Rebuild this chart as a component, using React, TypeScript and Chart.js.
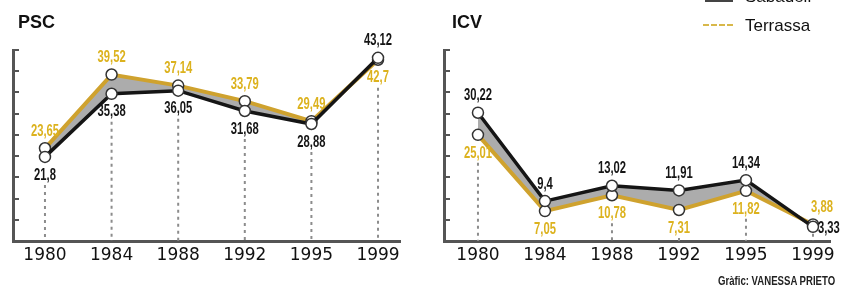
import React, { useEffect, useRef } from "react";
import { Chart, registerables } from "chart.js";

Chart.register(...registerables);

// ---- data ----
const years = ["1980", "1984", "1988", "1992", "1995", "1999"];
const seriesNames = ["Sabadell", "Terrassa"];
const pscSabadell = [21.8, 35.38, 36.05, 31.68, 28.88, 43.12];
const pscTerrassa = [23.65, 39.52, 37.14, 33.79, 29.49, 42.7];
const icvSabadell = [30.22, 9.4, 13.02, 11.91, 14.34, 3.33];
const icvTerrassa = [25.01, 7.05, 10.78, 7.31, 11.82, 3.88];

// ---- label placement (style) ----
const pscPlacement = [
  ["below", "below", "below", "below", "below", "above"],
  ["above", "above", "above", "above", "above", "below"],
];
const icvPlacement = [
  ["above", "above", "above", "above", "above", "right"],
  ["below", "below", "below", "below", "below", "aboveRight"],
];

const SAB_LINE = "#151515";
const TER_LINE = "#cfa22e";
const SAB_TEXT = "#151515";
const TER_TEXT = "#dcb21e";
const AXIS = "#555555";

const fmt = (v: number) => String(v).replace(".", ",");

type PanelProps = {
  sab: number[];
  ter: number[];
  placement: string[][];
  yMin: number;
  yMax: number;
  xMin: number;
  xMax: number;
  padLeft: number;
  padRight: number;
  width: number;
  left: number;
};

function makePlugin(placement: string[][]) {
  const labelPos = (d: number, i: number, px: number, py: number) => {
    const p = placement[d][i];
    if (p === "above") return { x: px, y: py - 17, align: "center" };
    if (p === "below") return { x: px, y: py + 18, align: "center" };
    if (p === "right") return { x: px + 5, y: py + 1, align: "left" };
    return { x: px + 9, y: py - 17, align: "center" }; // aboveRight
  };
  return {
    id: "panelDecor",
    beforeDatasetsDraw(chart: any) {
      const ctx = chart.ctx;
      const xs = chart.scales.x;
      const area = chart.chartArea;
      ctx.save();
      ctx.strokeStyle = "#8c8c8c";
      ctx.lineWidth = 2;
      ctx.setLineDash([3, 4]);
      const m0 = chart.getDatasetMeta(0).data;
      const m1 = chart.getDatasetMeta(1).data;
      for (let i = 0; i < years.length; i++) {
        const x = xs.getPixelForValue(i);
        const lowerIdx = m0[i].y >= m1[i].y ? 0 : 1;
        const py = lowerIdx === 0 ? m0[i].y : m1[i].y;
        let start = py + 7;
        if (placement[lowerIdx][i] === "below") start = py + 18 + 10;
        if (start >= area.bottom - 2) continue;
        ctx.beginPath();
        ctx.moveTo(x, start);
        ctx.lineTo(x, area.bottom);
        ctx.stroke();
      }
      ctx.restore();
    },
    afterDatasetsDraw(chart: any) {
      const ctx = chart.ctx;
      const ys = chart.scales.y;
      const area = chart.chartArea;
      ctx.save();
      // inward tick marks on the y axis
      ctx.strokeStyle = AXIS;
      ctx.lineWidth = 2;
      ys.ticks.forEach((t: any) => {
        const y = Math.round(ys.getPixelForValue(t.value));
        ctx.beginPath();
        ctx.moveTo(area.left, y);
        ctx.lineTo(area.left + 6, y);
        ctx.stroke();
      });
      // value labels
      ctx.font = "bold 17px 'Liberation Sans', Arial, sans-serif";
      ctx.textBaseline = "middle";
      for (let d = 0; d < 2; d++) {
        const meta = chart.getDatasetMeta(d);
        const vals = chart.data.datasets[d].data;
        meta.data.forEach((pt: any, i: number) => {
          const pos = labelPos(d, i, pt.x, pt.y);
          ctx.fillStyle = d === 0 ? SAB_TEXT : TER_TEXT;
          ctx.textAlign = pos.align;
          ctx.save();
          ctx.translate(pos.x, pos.y);
          ctx.scale(0.66, 1);
          ctx.fillText(fmt(vals[i].y), 0, 0);
          ctx.restore();
        });
      }
      ctx.restore();
    },
  };
}

function Panel(props: PanelProps) {
  const ref = useRef<HTMLCanvasElement | null>(null);
  useEffect(() => {
    if (!ref.current) return;
    const pointStyle = {
      pointRadius: 5.5,
      pointBackgroundColor: "#ffffff",
      pointBorderColor: "#333333",
      pointBorderWidth: 1.5,
      tension: 0,
    };
    const chart = new Chart(ref.current, {
      type: "line",
      data: {
        datasets: [
          {
            label: seriesNames[0],
            data: props.sab.map((v, i) => ({ x: i, y: v })),
            borderColor: SAB_LINE,
            borderWidth: 3.5,
            fill: "+1",
            backgroundColor: "#acacac",
            ...pointStyle,
          },
          {
            label: seriesNames[1],
            data: props.ter.map((v, i) => ({ x: i, y: v })),
            borderColor: TER_LINE,
            borderWidth: 4,
            fill: false,
            ...pointStyle,
          },
        ],
      },
      options: {
        animation: false,
        responsive: false,
        layout: {
          padding: { left: props.padLeft, right: props.padRight, top: 50, bottom: 16.6 },
        },
        plugins: {
          legend: { display: false },
          tooltip: { enabled: false },
          filler: { drawTime: "beforeDatasetsDraw" },
        },
        scales: {
          x: {
            type: "linear",
            min: props.xMin,
            max: props.xMax,
            afterBuildTicks: (s: any) => {
              s.ticks = years.map((_, i) => ({ value: i }));
            },
            ticks: {
              callback: (v: any) => years[v],
              font: { family: "'DejaVu Sans', sans-serif", size: 17 },
              color: "#111111",
              padding: 4,
              maxRotation: 0,
              autoSkip: false,
            },
            grid: { display: false, drawTicks: false },
            border: { display: true, color: AXIS, width: 3 },
          },
          y: {
            type: "linear",
            min: props.yMin,
            max: props.yMax,
            ticks: { display: false, count: 10 },
            grid: { display: false, drawTicks: false },
            border: { display: true, color: AXIS, width: 3 },
          },
        },
      } as any,
      plugins: [makePlugin(props.placement)],
    });
    return () => chart.destroy();
  }, []);
  return (
    <canvas
      ref={ref}
      width={props.width}
      height={286}
      style={{ position: "absolute", left: props.left, top: 0, width: props.width, height: 286 }}
    />
  );
}

const titleStyle: React.CSSProperties = {
  position: "absolute",
  top: 13,
  font: "bold 18px 'Liberation Sans', Arial, sans-serif",
  lineHeight: "18px",
  color: "#111",
  whiteSpace: "nowrap",
};

const legendText: React.CSSProperties = {
  position: "absolute",
  left: 745,
  font: "17px 'Liberation Sans', Arial, sans-serif",
  lineHeight: "17px",
  color: "#111",
  whiteSpace: "nowrap",
};

export default function App() {
  return (
    <div
      style={{
        position: "fixed",
        left: 0,
        top: 0,
        width: 856,
        height: 286,
        background: "#ffffff",
        overflow: "hidden",
      }}
    >
      <Panel
        sab={pscSabadell}
        ter={pscTerrassa}
        placement={pscPlacement}
        yMin={3.7}
        yMax={44.8}
        xMin={-0.48}
        xMax={5.33}
        padLeft={13}
        padRight={30}
        width={430}
        left={0}
      />
      <Panel
        sab={icvSabadell}
        ter={icvTerrassa}
        placement={icvPlacement}
        yMin={0}
        yMax={45}
        xMin={-0.507}
        xMax={5.254}
        padLeft={14}
        padRight={26}
        width={426}
        left={430}
      />
      <div style={{ ...titleStyle, left: 18 }}>PSC</div>
      <div style={{ ...titleStyle, left: 452 }}>ICV</div>
      <div style={{ position: "absolute", left: 705, top: -1, width: 28, height: 3, background: "#444" }} />
      <div style={{ ...legendText, top: -12 }}>{seriesNames[0]}</div>
      <div
        style={{
          position: "absolute",
          left: 703,
          top: 24,
          width: 30,
          height: 0,
          borderTop: "2px dashed #d8b84a",
        }}
      />
      <div style={{ ...legendText, top: 17 }}>{seriesNames[1]}</div>
      <div
        style={{
          position: "absolute",
          left: 718,
          top: 275,
          font: "bold 12px 'Liberation Sans', Arial, sans-serif",
          lineHeight: "12px",
          color: "#222",
          whiteSpace: "nowrap",
          transform: "scaleX(0.8)",
          transformOrigin: "0 0",
        }}
      >
        Gràfic: VANESSA PRIETO
      </div>
    </div>
  );
}
